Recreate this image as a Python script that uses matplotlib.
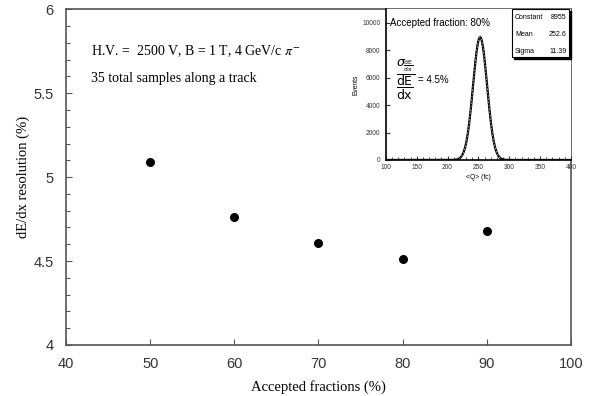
import numpy as np
import matplotlib
matplotlib.use('Agg')
import matplotlib.pyplot as plt
from matplotlib.patches import Rectangle
from matplotlib.ticker import MultipleLocator

# data
fractions = [50, 60, 70, 80, 90]
resolution = [5.09, 4.76, 4.61, 4.51, 4.68]

# gaussian fit shown in the inset (stats box values)
fit_constant = 8955
fit_mean = 252.6
fit_sigma = 11.39
stat_names = ['Constant', 'Mean', 'Sigma']
stat_values = ['8955', '252.6', '11.39']

serif = 'Liberation Serif'
sans = 'Liberation Sans'
tick_col = '#333333'

fig = plt.figure(figsize=(5.92, 3.96), dpi=100)
ax = fig.add_axes([0.1115, 0.1288, 0.853, 0.848])

ax.scatter(fractions, resolution, s=30, color='black', zorder=3)
ax.set_xlim(40, 100)
ax.set_ylim(4, 6)
ax.xaxis.set_major_locator(MultipleLocator(10))
ax.yaxis.set_minor_locator(MultipleLocator(0.1))
ax.set_yticks([4, 4.5, 5, 5.5, 6])
ax.set_yticklabels(['4', '4.5', '5', '5.5', '6'])
ax.tick_params(which='both', direction='in', top=False, right=False, colors='#555555',
               labelcolor=tick_col, labelsize=10.5)
ax.tick_params(axis='x', pad=9)
ax.tick_params(axis='y', pad=9)
ax.tick_params(which='major', length=4, width=0.8)
ax.tick_params(which='minor', length=3, width=0.8)
for lab in ax.get_xticklabels() + ax.get_yticklabels():
    lab.set_family(sans)
for s in ax.spines.values():
    s.set_color('#555555')
    s.set_linewidth(1.2)

ax.set_xlabel('Accepted fractions (%)', family=serif, fontsize=10.5, labelpad=6)
ax.set_ylabel('dE/dx resolution (%)', family=serif, fontsize=10.5, labelpad=2)

ax.text(0.05, 0.875, 'H.V. =  2500 V, B = 1 T, 4 GeV/c $\\pi^{-}$', transform=ax.transAxes,
        family=serif, fontsize=10, va='center', math_fontfamily='stix')
ax.text(0.05, 0.795, '35 total samples along a track', transform=ax.transAxes,
        family=serif, fontsize=10, va='center')

# inset histogram
ins = fig.add_axes([0.652, 0.596, 0.3125, 0.381])
q = np.linspace(100, 400, 601)
events = fit_constant * np.exp(-0.5 * ((q - fit_mean) / fit_sigma) ** 2)
ins.plot(q, events, color='black', lw=1.6)
ins.plot(q, events, color='white', lw=0.4, ls=(0, (3, 3)))
ins.set_xlim(100, 400)
ins.set_ylim(0, 11000)
ins.xaxis.set_major_locator(MultipleLocator(50))
ins.xaxis.set_minor_locator(MultipleLocator(10))
ins.set_yticks([0, 2000, 4000, 6000, 8000, 10000])
ins.tick_params(which='both', direction='in', labelsize=4.8, colors='#333333')
ins.tick_params(axis='x', pad=3)
ins.tick_params(axis='y', pad=4)
ins.tick_params(which='major', length=3)
ins.tick_params(which='minor', length=2)
for lab in ins.get_xticklabels() + ins.get_yticklabels():
    lab.set_family(sans)
ins.spines['top'].set_visible(False)
ins.spines['right'].set_visible(False)
ins.spines['left'].set_linewidth(1.2)
ins.spines['bottom'].set_linewidth(1.2)
ins.set_xlabel('<Q> (fc)', family=sans, fontsize=4.8, labelpad=2)
ins.set_ylabel('Events', family=sans, fontsize=4.8, labelpad=2)

ins.text(0.02, 0.905, 'Accepted fraction: 80%', transform=ins.transAxes, family=sans,
         fontsize=7, va='center')
ins.text(0.055, 0.53, r'$\dfrac{\sigma_{\frac{\mathrm{dE}}{\mathrm{dx}}}}{\dfrac{\mathrm{dE}}{\mathrm{dx}}}$',
         transform=ins.transAxes, family=sans, fontsize=9, va='center', math_fontfamily='dejavusans')
ins.text(0.175, 0.53, '= 4.5%', transform=ins.transAxes, family=sans, fontsize=7, va='center')

# stats box with shadow
ins.add_patch(Rectangle((0.69, 0.672), 0.31, 0.318, transform=ins.transAxes, facecolor='black',
                        edgecolor='black', clip_on=False, zorder=4))
ins.add_patch(Rectangle((0.681, 0.682), 0.31, 0.318, transform=ins.transAxes, facecolor='white',
                        edgecolor='black', lw=0.8, clip_on=False, zorder=5))
for i, (n, v) in enumerate(zip(stat_names, stat_values)):
    yy = 0.945 - i * 0.113
    ins.text(0.697, yy, n, transform=ins.transAxes, family=sans, fontsize=5, va='center', zorder=6)
    ins.text(0.975, yy, v, transform=ins.transAxes, family=sans, fontsize=5, va='center',
             ha='right', zorder=6)

fig.savefig('out.png', dpi=100)
